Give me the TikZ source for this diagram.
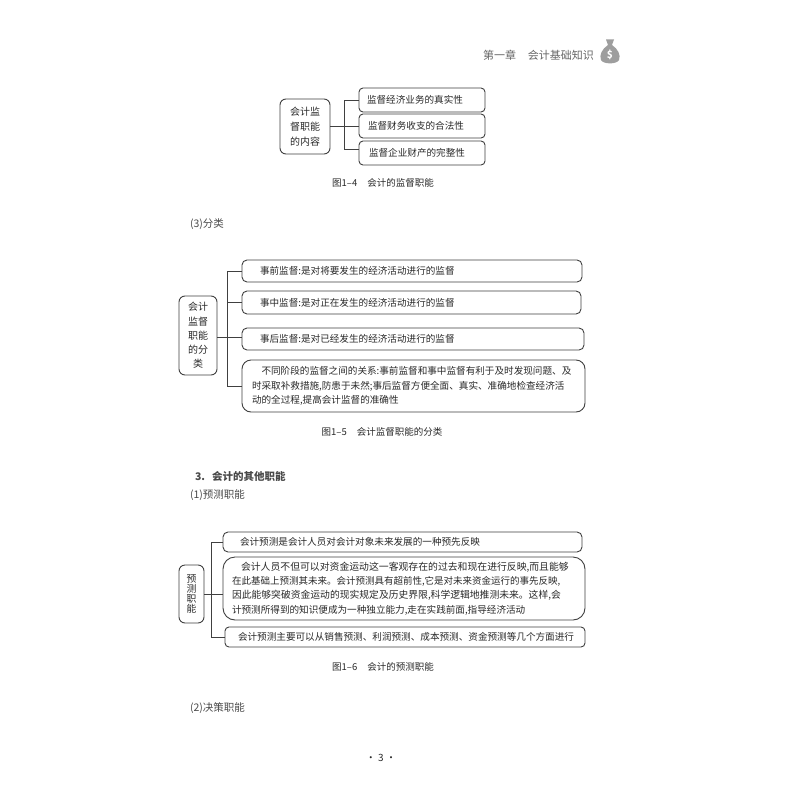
\documentclass[tikz,border=0pt]{standalone}
\usepackage{fontspec}
\setmainfont{Noto Sans CJK SC}
\definecolor{ink}{gray}{0.16}
\definecolor{head}{gray}{0.40}
\definecolor{bag}{gray}{0.62}
\newcommand{\sizedline}[2]{{\fontsize{#1pt}{14.2pt}\selectfont #2}}
\begin{document}
\begin{tikzpicture}[x=1pt,y=-1pt,
  txt/.style={font=\fontsize{9.6pt}{14.2pt}\selectfont,text=ink,inner sep=0pt,outer sep=0pt},
  plain/.style={txt,anchor=west,font=\fontsize{10.5pt}{12pt}\selectfont,text=ink!85},
  figcap/.style={txt,anchor=center,font=\fontsize{9.5pt}{11pt}\selectfont},
  bx/.style={txt,draw=black!75,line width=.9pt,anchor=north west,align=left},
  lbox/.style={bx,align=center,rounded corners=6pt},
  sbox/.style={bx,rounded corners=4pt},
  bigbox/.style={bx,rounded corners=9pt},
  link/.style={draw=black!75,line width=.9pt}]
\useasboundingbox (0,0) rectangle (800,800);
\fill[white] (0,0) rectangle (800,800);

% running head
\node[txt,anchor=west,text=head,font=\fontsize{11pt}{12pt}\selectfont] (hd) at (483,55) {第一章\hspace{12pt}会计基础知识};
\fill[bag] (606,39.5) -- (614,39.5) -- (612,45) .. controls (618,49) and (621,55) .. (619,60)
  .. controls (617,64.5) and (603,64.5) .. (601,60) .. controls (599,55) and (602,49) .. (608,45) -- cycle;
\node[inner sep=0pt,text=white,font=\bfseries\fontsize{10pt}{10pt}\selectfont] (dollar) at (610,55) {\$};

% figure 1-4
\node[lbox,minimum width=50pt,minimum height=55pt,font=\fontsize{10pt}{15pt}\selectfont] (a0) at (280,99) {会计监\\督职能\\的内容};
\node[sbox,minimum width=126pt,minimum height=24pt,text width=126pt-16pt,inner xsep=8pt] (a1) at (359,88) {监督经济业务的真实性};
\node[sbox,minimum width=126pt,minimum height=24pt,text width=126pt-18pt,inner xsep=9pt] (a2) at (359,114) {监督财务收支的合法性};
\node[sbox,minimum width=126pt,minimum height=24pt,text width=126pt-20pt,inner xsep=10pt] (a3) at (359,141) {监督企业财产的完整性};
\coordinate (ta) at (344,0);
\draw[link] (a1.west) -- (a1.west-|ta) -- ([yshift=4pt]ta|-a3.west) -- ([yshift=4pt]a3.west);
\draw[link] (a0.east) -- (a0.east-|a2.west);
\node[figcap] (c4) at (383,183) {图1–4\hspace{10pt}会计的监督职能};

\node[plain] (p3) at (190,224) {(3)分类};

% figure 1-5
\node[lbox,minimum width=38pt,minimum height=79pt,font=\fontsize{10pt}{14.3pt}\selectfont] (b0) at (179,296) {会计\\监督\\职能\\的分\\类};
\node[sbox,minimum width=340pt,minimum height=22pt,text width=340pt-18pt,inner xsep=9pt,rounded corners=5pt] (b1) at (242,260) {\hspace{9pt}事前监督:是对将要发生的经济活动进行的监督};
\node[sbox,minimum width=339pt,minimum height=23pt,text width=339pt-18pt,inner xsep=9pt,rounded corners=5pt] (b2) at (242,291) {\hspace{9pt}事中监督:是对正在发生的经济活动进行的监督};
\node[sbox,minimum width=342pt,minimum height=22pt,text width=342pt-18pt,inner xsep=9pt,rounded corners=5pt] (b3) at (242,328) {\hspace{9pt}事后监督:是对已经发生的经济活动进行的监督};
\node[bigbox,minimum width=343pt,minimum height=52pt,text width=343pt-20pt,inner xsep=10pt] (b4) at (242,360) {\hspace{9.5pt}不同阶段的监督之间的关系:事前监督和事中监督有利于及时发现问题、及\\时采取补救措施,防患于未然;事后监督方便全面、真实、准确地检查经济活\\动的全过程,提高会计监督的准确性};
\coordinate (tb) at (227,0);
\draw[link] (b1.west) -- (b1.west-|tb) -- (tb|-b4.west) -- (b4.west);
\draw[link] (tb|-b2.west) -- (b2.west);
\draw[link] ([yshift=-2pt]b0.east) -- ([yshift=-2pt]b0.east-|b3.west);
\node[figcap] (c5) at (382,432) {图1–5\hspace{10pt}会计监督职能的分类};

\node[plain,font=\bfseries\fontsize{10.5pt}{12pt}\selectfont] (s3) at (195,476) {\makebox[17pt][l]{3.}会计的其他职能};
\node[plain] (p1) at (190,495) {(1)预测职能};

% figure 1-6
\node[lbox,minimum width=25pt,minimum height=58pt,text width=12pt,font=\fontsize{9.8pt}{10pt}\selectfont] (d0) at (179,565) {预\\测\\职\\能};
\node[sbox,minimum width=359pt,minimum height=20pt,text width=359pt-34pt,inner xsep=17pt,rounded corners=5pt] (d1) at (223,532) {会计预测是会计人员对会计对象未来发展的一种预先反映};
\node[bigbox,minimum width=362pt,minimum height=63pt,text width=362pt-18pt,inner xsep=9pt,rounded corners=12pt] (d2) at (223,557) {\hspace{9pt}\sizedline{9.85}{会计人员不但可以对资金运动这一客观存在的过去和现在进行反映,而且能够}\\\sizedline{9.5}{在此基础上预测其未来。会计预测具有超前性,它是对未来资金运行的事先反映,}\\\sizedline{9.8}{因此能够突破资金运动的现实规定及历史界限,科学逻辑地推测未来。这样,会}\\\sizedline{9.6}{计预测所得到的知识便成为一种独立能力,走在实践前面,指导经济活动}};
\node[sbox,minimum width=360pt,minimum height=20pt,text width=360pt-26pt,inner xsep=13pt,rounded corners=4pt] (d3) at (225,627) {会计预测主要可以从销售预测、利润预测、成本预测、资金预测等几个方面进行};
\coordinate (td) at (211,0);
\draw[link] (d1.west) -- (d1.west-|td) -- (td|-d3.west) -- (d3.west);
\draw[link] (d0.east) -- (d0.east-|d2.west);
\node[figcap] (c6) at (383,667) {图1–6\hspace{10pt}会计的预测职能};

\node[plain] (p2) at (190,708) {(2)决策职能};
\node[txt,anchor=center,font=\fontsize{10pt}{12pt}\selectfont] (pg) at (381,758) {· 3 ·};
\end{tikzpicture}
\end{document}
